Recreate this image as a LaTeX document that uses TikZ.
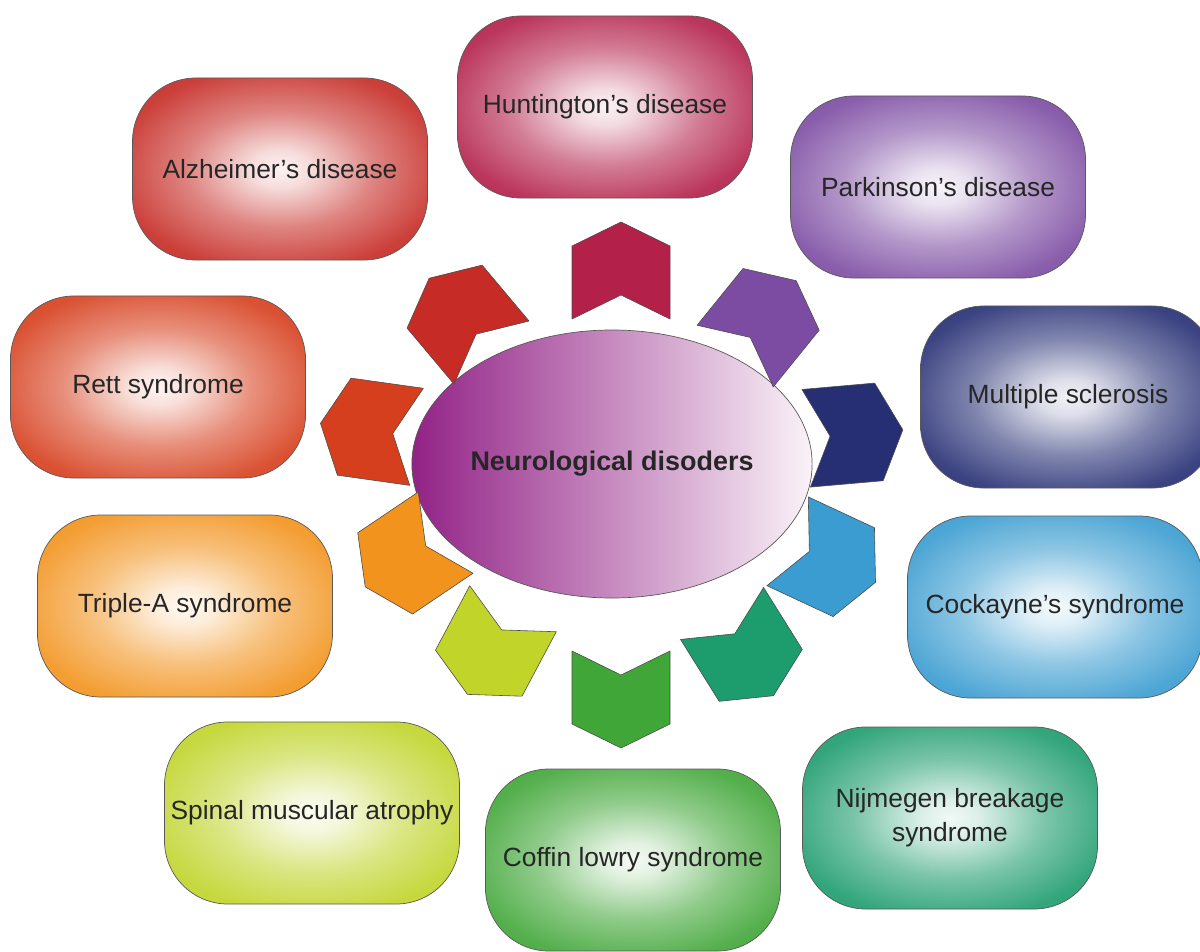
\documentclass[tikz,border=0pt]{standalone}
\usepackage{fontspec}
\setmainfont{Liberation Sans}
\usetikzlibrary{shapes.geometric}
\definecolor{huntred}{HTML}{B3204A}
\definecolor{parkpurple}{HTML}{7C4CA2}
\definecolor{msnavy}{HTML}{262F74}
\definecolor{cockblue}{HTML}{3A9CD0}
\definecolor{nijteal}{HTML}{1D9C6E}
\definecolor{coffgreen}{HTML}{41A638}
\definecolor{spingreen}{HTML}{C0D42A}
\definecolor{tripleorange}{HTML}{F2931D}
\definecolor{rettred}{HTML}{D63F1D}
\definecolor{alzred}{HTML}{C62B25}
\definecolor{hubpurple}{HTML}{922286}
\definecolor{hubpale}{HTML}{FAF3F8}
\colorlet{glowcolor}{white}
\pgfdeclareradialshading[glowcolor]{glow}{\pgfpoint{0bp}{0bp}}{%
  color(0bp)=(glowcolor!6); color(5bp)=(glowcolor!16);
  color(16bp)=(glowcolor!58); color(28bp)=(glowcolor!90);
  color(40bp)=(glowcolor); color(50bp)=(glowcolor)}
\tikzset{
  glowing/.code={\colorlet{glowcolor}{#1}\tikzset{shading=glow}},
  disease/.style={rectangle,rounded corners=1.9cm,draw=black!65,line width=0.6pt,
    minimum width=8.85cm,minimum height=5.46cm,inner sep=0pt,align=center,
    text=black!85,font=\fontsize{22.5}{29}\selectfont,glowing=#1},
  hub/.style={ellipse,draw=black!65,line width=0.6pt,
    minimum width=11.28cm,minimum height=8.04cm,inner sep=0pt,
    left color=hubpurple,right color=hubpale,
    text=black!85,font=\bfseries\fontsize{23}{28}\selectfont},
  chevron/.style={draw=black!70,line width=0.5pt,line join=round}
}
\begin{document}
\begin{tikzpicture}[x=0.03cm,y=-0.03cm]
  \useasboundingbox (0,0) rectangle (1200,952);
  % centre
  \node[hub] (hub) at (612,464) {Neurological disoders};
  % disorders round the centre
  \node[disease=huntred] (hunt) at (605,107) {Huntington's disease};
  \node[disease=parkpurple] (park) at (938,187) {Parkinson's disease};
  \node[disease=msnavy] (ms) at (1068,397) {Multiple sclerosis};
  \node[disease=cockblue] (cock) at (1055,607) {Cockayne's syndrome};
  \node[disease=nijteal] (nij) at (950,818) {Nijmegen breakage\\syndrome};
  \node[disease=coffgreen] (coff) at (633,860) {Coffin lowry syndrome};
  \node[disease=spingreen] (spin) at (312,813) {Spinal muscular atrophy};
  \node[disease=tripleorange] (triple) at (185,606) {Triple-A syndrome};
  \node[disease=rettred] (rett) at (158,387) {Rett syndrome};
  \node[disease=alzred] (alz) at (280,169) {Alzheimer's disease};
  % chevrons pointing outwards
  \foreach \cx/\cy/\ang/\col in {621/270/90/huntred, 766/318/51/parkpurple,
      855/434/5/msnavy, 832/562/-25/cockblue, 748/655/-58/nijteal,
      621/700/-90/coffgreen, 490/652/-118/spingreen, 405/560/-146/tripleorange,
      368/430/172/rettred, 460/315/130/alzred}
    \draw[chevron,fill=\col,shift={(\cx,\cy)},rotate=\ang]
      (48,0) -- (24,49) -- (-49,49) -- (-25,0) -- (-49,-49) -- (24,-49) -- cycle;
\end{tikzpicture}
\end{document}
